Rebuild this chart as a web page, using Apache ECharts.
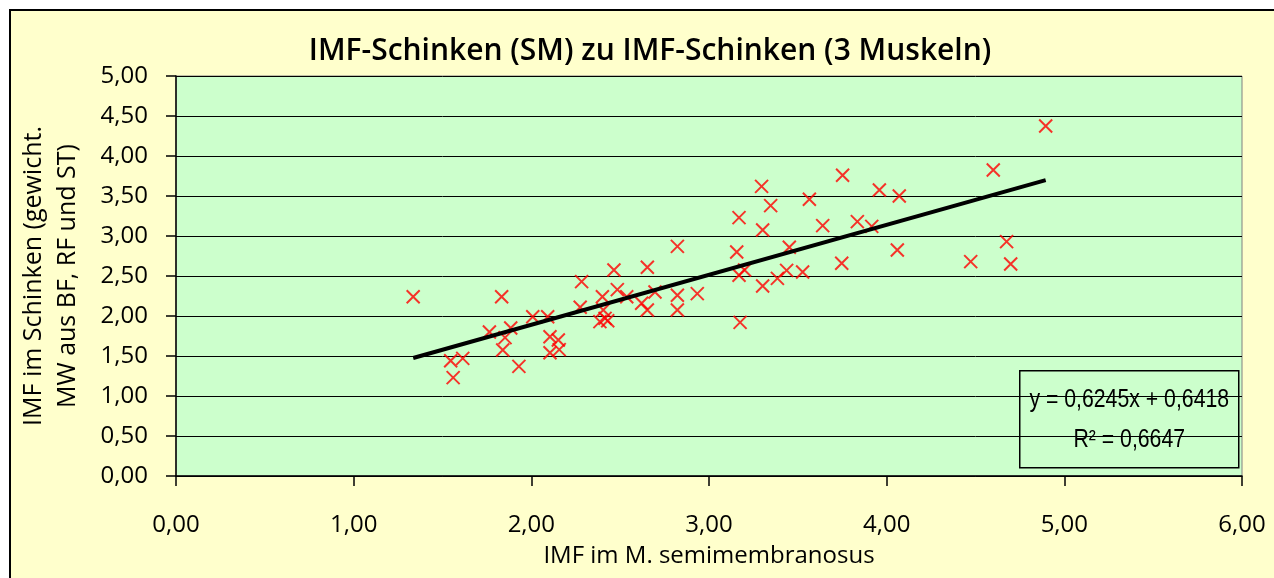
<!DOCTYPE html>
<html>
<head>
<meta charset="utf-8">
<script src="https://cdn.jsdelivr.net/npm/echarts@6/dist/echarts.min.js"></script>
<style>
  html, body { margin: 0; padding: 0; background: #fff; }
  #main { width: 1274px; height: 578px; }
</style>
</head>
<body>
<div id="main"></div>
<script>
// IMF im M. semimembranosus (x) / IMF im Schinken (y)
var xVals = [1.335, 1.546, 1.614, 1.56, 1.833, 1.764, 1.852, 1.884, 1.839, 1.93,
  2.008, 2.092, 2.105, 2.152, 2.157, 2.105, 2.283, 2.275, 2.465, 2.40,
  2.484, 2.537, 2.405, 2.386, 2.415, 2.43, 2.653, 2.822, 2.696, 2.621,
  2.653, 2.822, 2.822, 2.934, 3.156, 3.169, 3.169, 3.20, 3.175,
  3.296, 3.347, 3.302, 3.302, 3.385, 3.437, 3.452, 3.527, 3.565, 3.64,
  3.752, 3.747, 3.835, 3.916, 3.959, 4.071, 4.06, 4.60, 4.675, 4.473,
  4.698, 4.895];
var yVals = [2.24, 1.44, 1.47, 1.23, 2.24, 1.80, 1.73, 1.85, 1.575, 1.37,
  1.99, 1.99, 1.74, 1.70, 1.58, 1.54, 2.43, 2.11, 2.575, 2.24,
  2.33, 2.24, 2.075, 1.93, 1.97, 1.94, 2.61, 2.87, 2.30, 2.16,
  2.075, 2.26, 2.075, 2.28, 2.80, 3.23, 2.51, 2.575, 1.92,
  3.62, 3.38, 3.075, 2.375, 2.47, 2.57, 2.86, 2.55, 3.46, 3.13,
  3.76, 2.66, 3.18, 3.12, 3.575, 3.50, 2.825, 3.825, 2.93, 2.68,
  2.65, 4.375];

// Trendlinie (lineare Regression laut Beschriftung)
var slope = 0.6245;
var intercept = 0.6418;
var r2 = 0.6647;
var trendX = [1.335, 4.895];

function fmt(v, n) {
  return v.toFixed(n).replace('.', ',');
}

var points = xVals.map(function (x, i) { return [x, yVals[i]]; });
var trend = trendX.map(function (x) { return [x, slope * x + intercept]; });

var font = 'Open Sans';
var boxFont = '25px "Liberation Sans Narrow", "Liberation Sans", sans-serif';
var myChart = echarts.init(document.getElementById('main'));

var option = {
  backgroundColor: '#ffffff',
  animation: false,
  graphic: [
    {
      type: 'rect',
      z: -10,
      shape: { x: 10, y: 10, width: 1400, height: 700 },
      style: { fill: '#FFFFCC', stroke: '#000', lineWidth: 2 }
    },
    {
      type: 'group',
      left: 1019,
      top: 370,
      z: 100,
      children: [
        {
          type: 'rect',
          shape: { x: 0, y: 0, width: 219, height: 97 },
          style: { fill: '#CCFFCC', stroke: '#000', lineWidth: 1.5 }
        },
        {
          type: 'text',
          x: 109.5,
          y: 29,
          scaleX: 0.85,
          style: {
            text: 'y = ' + fmt(slope, 4) + 'x + ' + fmt(intercept, 4),
            font: boxFont,
            fill: '#000',
            align: 'center',
            verticalAlign: 'middle'
          }
        },
        {
          type: 'text',
          x: 109.5,
          y: 69,
          scaleX: 0.85,
          style: {
            text: 'R² = ' + fmt(r2, 4),
            font: boxFont,
            fill: '#000',
            align: 'center',
            verticalAlign: 'middle'
          }
        }
      ]
    }
  ],
  title: {
    text: 'IMF-Schinken (SM) zu IMF-Schinken (3 Muskeln)',
    left: 645,
    textAlign: 'center',
    top: 31,
    textStyle: {
      fontFamily: font,
      fontSize: 30,
      fontWeight: 600,
      color: '#000'
    }
  },
  grid: {
    left: 176,
    top: 76,
    right: 32,
    bottom: 102,
    show: true,
    backgroundColor: '#CCFFCC',
    borderColor: '#808080',
    borderWidth: 1
  },
  xAxis: {
    type: 'value',
    min: 0,
    max: 6,
    interval: 1,
    name: 'IMF im M. semimembranosus',
    nameLocation: 'middle',
    nameGap: 68,
    nameTextStyle: { fontFamily: font, fontSize: 24, color: '#000' },
    axisLine: { show: true, lineStyle: { color: '#000', width: 1.5 } },
    axisTick: { show: true, length: 10, lineStyle: { color: '#000', width: 1.5 } },
    axisLabel: {
      margin: 37,
      fontFamily: font,
      fontSize: 24,
      color: '#000',
      formatter: function (v) { return fmt(v, 2); }
    },
    splitLine: { show: false }
  },
  yAxis: {
    type: 'value',
    min: 0,
    max: 5,
    interval: 0.5,
    name: 'IMF im Schinken (gewicht.\nMW aus BF, RF und ST)',
    nameLocation: 'middle',
    nameRotate: 90,
    nameGap: 91,
    nameTextStyle: { fontFamily: font, fontSize: 25, color: '#000', lineHeight: 34, align: 'center' },
    axisLine: { show: true, lineStyle: { color: '#000', width: 1.5 } },
    axisTick: { show: true, length: 10, lineStyle: { color: '#000', width: 1.5 } },
    axisLabel: {
      margin: 28,
      fontFamily: font,
      fontSize: 24,
      color: '#000',
      formatter: function (v) { return fmt(v, 2); }
    },
    splitLine: { show: true, lineStyle: { color: '#000', width: 1 } }
  },
  series: [
    {
      name: 'IMF',
      type: 'scatter',
      data: points,
      symbol: 'path://M0,0L10,10M10,0L0,10',
      symbolSize: 13,
      itemStyle: { color: 'rgba(0,0,0,0)', borderColor: '#FF0000', borderWidth: 2 },
      z: 3
    },
    {
      name: 'Trend',
      type: 'line',
      data: trend,
      symbol: 'none',
      lineStyle: { color: '#000', width: 4 },
      z: 4
    }
  ]
};

myChart.setOption(option);
</script>
</body>
</html>
